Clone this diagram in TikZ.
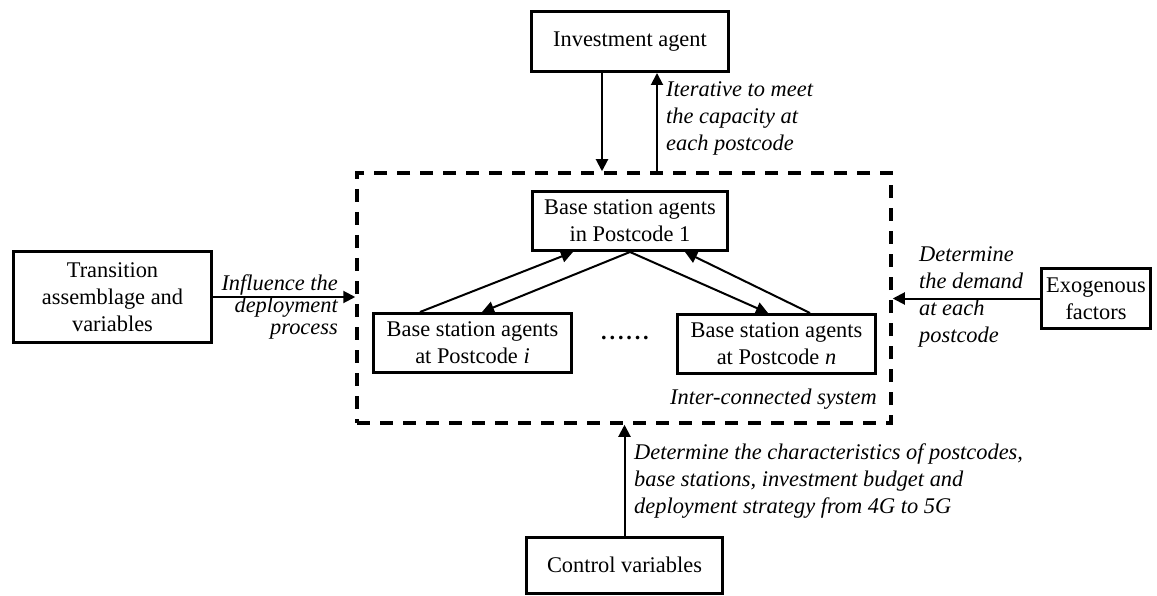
\documentclass[tikz,border=0pt]{standalone}
\usepackage{fontspec}
\setmainfont{Liberation Serif}
\usetikzlibrary{arrows.meta}
\begin{document}
\begin{tikzpicture}[x=1pt,y=-1pt,
  box/.style={draw, line width=3pt, inner sep=0pt, align=center, font=\fontsize{22.4}{27}\selectfont},
  arr/.style={line width=2pt, -{Triangle[length=12pt,width=12pt]}},
  lbl/.style={font=\fontsize{22.4}{27}\selectfont\itshape, inner sep=0pt},
  sysbox/.style={draw, line width=3.5pt, dash pattern=on 13pt off 10pt, inner sep=0pt},
]
\useasboundingbox (0,0) rectangle (1157,596);
% boxes
\node[box, minimum width=197pt, minimum height=60pt] (inv) at (630,41.5) {Investment agent};
\node[sysbox, minimum width=534pt, minimum height=250pt] (sys) at (624,298) {};
\node[box, minimum width=195pt, minimum height=59pt] (top) at (630,221) {Base station agents\\in Postcode 1};
\node[box, minimum width=198pt, minimum height=59pt] (pi) at (472.5,343) {Base station agents\\at Postcode \textit{i}};
\node[box, minimum width=198pt, minimum height=59pt] (pn) at (776.5,344) {Base station agents\\at Postcode \textit{n}};
\node[box, minimum width=198pt, minimum height=91pt] (tr) at (112.5,297) {Transition\\assemblage and\\variables};
\node[box, minimum width=109pt, minimum height=60pt] (exo) at (1096,298.5) {Exogenous\\factors};
\node[box, minimum width=196pt, minimum height=56pt] (ctrl) at (624.5,565) {Control variables};
\node[font=\fontsize{22.4}{27}\selectfont\bfseries, inner sep=0pt] (dots) at (625,338) {.\kern2.8pt.\kern2.8pt.\kern2.8pt.\kern2.8pt.\kern2.8pt.};
% connectors
\draw[arr] ([xshift=-28pt]inv.south) -- ([xshift=-28pt]inv.south |- sys.north);
\draw[arr] ([xshift=27pt]inv.south |- sys.north) -- ([xshift=27pt]inv.south);
\draw[arr] (tr.east) -- (tr.east -| sys.west);
\draw[arr] (exo.west) -- (exo.west -| sys.east);
\draw[arr] (ctrl.north) -- (ctrl.north |- sys.south);
\draw[arr] ([xshift=-52.5pt]pi.north) -- ([xshift=-57pt]top.south);
\draw[arr] (top.south) -- ([xshift=9.5pt]pi.north);
\draw[arr] (top.south) -- ([xshift=-8.5pt]pn.north);
\draw[arr] ([xshift=33.5pt]pn.north) -- ([xshift=55pt]top.south);
% labels
\node[lbl, anchor=west, align=left] (l1) at (666,118) {Iterative to meet\\the capacity at\\each postcode};
\node[lbl, anchor=east, align=right, font=\fontsize{22.4}{22}\selectfont\itshape] (l2) at (338,307) {Influence the\\deployment\\process};
\node[lbl, anchor=west, align=left] (l3) at (919,297) {Determine\\the demand\\at each\\postcode};
\node[lbl, anchor=west, align=left] (l4) at (634,481) {Determine the characteristics of postcodes,\\base stations, investment budget and\\deployment strategy from 4G to 5G};
\node[lbl, anchor=east] (l5) at (877,399) {Inter-connected system};
\end{tikzpicture}
\end{document}
